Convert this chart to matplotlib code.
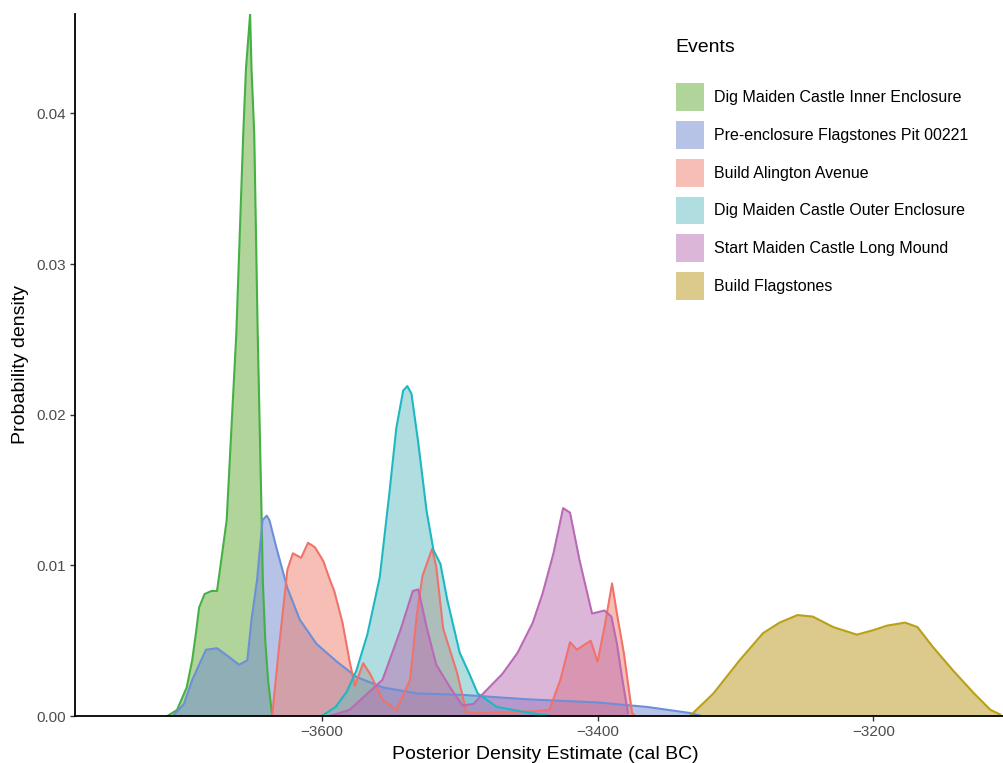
import matplotlib
matplotlib.use("Agg")
import matplotlib.pyplot as plt
from matplotlib.patches import Patch

plt.rcParams['font.family'] = ['Liberation Sans', 'DejaVu Sans']
plt.rcParams['axes.unicode_minus'] = True

# Events, in legend / drawing order
events = ['Dig Maiden Castle Inner Enclosure',
          'Pre-enclosure Flagstones Pit 00221',
          'Build Alington Avenue',
          'Dig Maiden Castle Outer Enclosure',
          'Start Maiden Castle Long Mound',
          'Build Flagstones']

# posterior densities (cal BC, density)
inner_x = [-3712, -3705, -3698, -3694, -3691, -3689, -3685, -3680, -3676, -3673, -3669,
           -3662, -3657, -3655, -3652, -3651, -3649, -3646.5, -3643.6, -3642.8, -3641,
           -3639, -3636]
inner_y = [0, 0.0004, 0.0019, 0.0037, 0.0057, 0.0072, 0.0081, 0.0083, 0.0083, 0.0103, 0.0130,
           0.0254, 0.0386, 0.0430, 0.0466, 0.0430, 0.0386, 0.0254, 0.0130, 0.0090, 0.0050,
           0.0024, 0]

pit_x = [-3707, -3700, -3694, -3684, -3676, -3667, -3660, -3654, -3651, -3647, -3643, -3640,
         -3638, -3633, -3625, -3616, -3604, -3589, -3575, -3556, -3531, -3498, -3449, -3400,
         -3364, -3333, -3325]
pit_y = [0.0001, 0.0008, 0.0024, 0.0044, 0.0045, 0.0039, 0.0034, 0.0037, 0.0064, 0.0090,
         0.0130, 0.0133, 0.0130, 0.0112, 0.0085, 0.0064, 0.0048, 0.0036, 0.0026, 0.0019,
         0.0015, 0.0014, 0.0011, 0.0009, 0.0006, 0.0002, 0]

alington_x = [-3636, -3631, -3625, -3621, -3615, -3610, -3605, -3599, -3594, -3591, -3585,
              -3580, -3576, -3570, -3565, -3556, -3546, -3536, -3531, -3527, -3520, -3517,
              -3512, -3502, -3495, -3485, -3449, -3435, -3427, -3420, -3415, -3405, -3400,
              -3395, -3389.5, -3386, -3381, -3375, -3373]
alington_y = [0, 0.0046, 0.0097, 0.0108, 0.0105, 0.0115, 0.0112, 0.0103, 0.0090, 0.0083,
              0.0062, 0.0037, 0.0020, 0.0035, 0.0028, 0.0011, 0.0004, 0.0024, 0.0068, 0.0093,
              0.0111, 0.0099, 0.0058, 0.0029, 0.0002, 0.0002, 0.0003, 0.0004, 0.0024, 0.0049,
              0.0044, 0.0050, 0.0036, 0.0059, 0.0088, 0.0068, 0.0042, 0.0002, 0]

outer_x = [-3600, -3590, -3582, -3575, -3567, -3558, -3551, -3546, -3541, -3538, -3535,
           -3530, -3524, -3519, -3514, -3509, -3500, -3493, -3487, -3473, -3449, -3434]
outer_y = [0, 0.0006, 0.0016, 0.0030, 0.0054, 0.0092, 0.0148, 0.0191, 0.0216, 0.0219, 0.0214,
           0.0181, 0.0136, 0.0110, 0.0101, 0.0077, 0.0042, 0.0028, 0.0015, 0.0006, 0.0002, 0]

mound_x = [-3594, -3580, -3556, -3543, -3534, -3530, -3524, -3517, -3507, -3498, -3490,
           -3485, -3469, -3458, -3447, -3440, -3432, -3425, -3420, -3413, -3404, -3395,
           -3390, -3386, -3382, -3378]
mound_y = [0, 0.0004, 0.0024, 0.0057, 0.0083, 0.0084, 0.0059, 0.0034, 0.0019, 0.0007, 0.0008,
           0.0013, 0.0028, 0.0042, 0.0062, 0.0081, 0.0108, 0.0138, 0.0135, 0.0103, 0.0068,
           0.0070, 0.0066, 0.0048, 0.0024, 0.0002]

flag_x = [-3333, -3316, -3297, -3280, -3268, -3255, -3244, -3229, -3212, -3200, -3190, -3177,
          -3168, -3157, -3142, -3127, -3115, -3108]
flag_y = [0, 0.0015, 0.0037, 0.0055, 0.0062, 0.0067, 0.0066, 0.0059, 0.0054, 0.0057, 0.0060,
          0.0062, 0.0059, 0.0046, 0.0030, 0.0015, 0.0004, 0.0001]

xs = [inner_x, pit_x, alington_x, outer_x, mound_x, flag_x]
ys = [inner_y, pit_y, alington_y, outer_y, mound_y, flag_y]

line_cols = ['#45b043', '#6c8fd8', '#f0736b', '#1db8c2', '#ba69b5', '#b8a117']
fill_cols = ['#65ab39', '#6f89d1', '#ef7f6b', '#63bdc1', '#bb6fb3', '#b99719']

fig = plt.figure(figsize=(10.04, 7.63), dpi=100)
ax = fig.add_axes([75 / 1004, 47 / 763, 928 / 1004, 702 / 763])

for x, y, lc, fc in zip(xs, ys, line_cols, fill_cols):
    ax.fill_between(x, y, color=fc, alpha=0.5, lw=0)
    ax.plot(x, y, color=lc, lw=1.5)

ax.set_xlim(-3779, -3106)
ax.set_ylim(0, 0.0466)
ax.set_xticks([-3600, -3400, -3200])
ax.set_yticks([0, 0.01, 0.02, 0.03, 0.04])
ax.set_yticklabels(['0.00', '0.01', '0.02', '0.03', '0.04'])

for s in ['top', 'right']:
    ax.spines[s].set_visible(False)
for s in ['left', 'bottom']:
    ax.spines[s].set_linewidth(1.3)
    ax.spines[s].set_color('black')
ax.tick_params(length=3.5, width=1, color='#333333', labelcolor='#4d4d4d', labelsize=11, pad=3)

ax.set_xlabel('Posterior Density Estimate (cal BC)', fontsize=14)
ax.xaxis.set_label_coords(0.5065, -0.043)
ax.set_ylabel('Probability density', fontsize=14, labelpad=5)

# legend: items via ax.legend, title as separate text
handles = [Patch(facecolor=fc, alpha=0.5, edgecolor='none') for fc in fill_cols]
ax.legend(handles, events, loc='upper left',
          bbox_to_anchor=(676 / 1004, 1 - 83 / 763), bbox_transform=fig.transFigure,
          frameon=False, fontsize=11.5,
          handlelength=1.75, handleheight=2.3, labelspacing=0.63,
          handletextpad=0.62, borderpad=0, borderaxespad=0)
fig.text(675 / 1004, 1 - 48 / 763, 'Events', fontsize=14, va='center', ha='left')

fig.savefig('out.png', dpi=100)
